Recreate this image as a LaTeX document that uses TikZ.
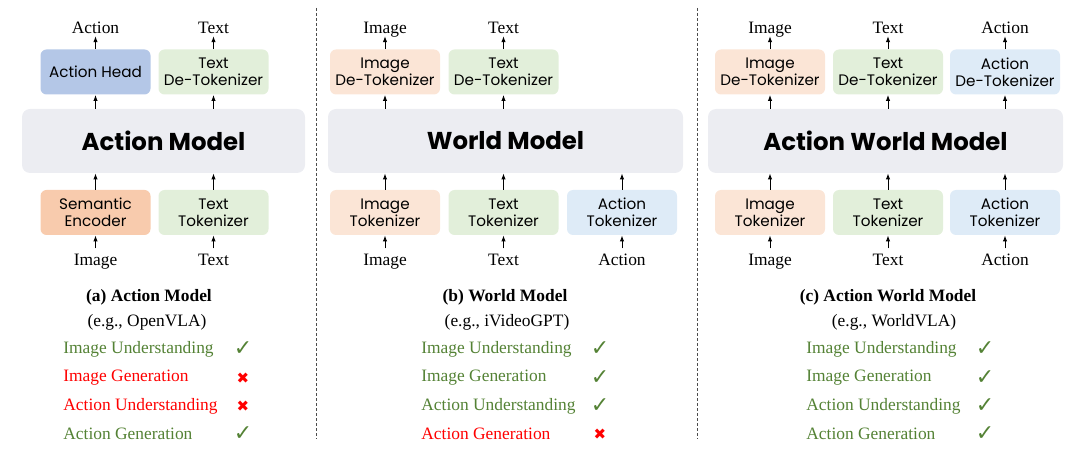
\documentclass[tikz,border=0pt]{standalone}
\usepackage{fontspec}
\setmainfont{Liberation Serif}
\newfontfamily\boxfont{Poppins}
\newfontfamily\symfont{DejaVu Sans}
\usetikzlibrary{arrows.meta,positioning}
\definecolor{coregray}{HTML}{ECEDF2}
\definecolor{headblue}{HTML}{B4C7E7}
\definecolor{txtgreen}{HTML}{E2EFDA}
\definecolor{encorange}{HTML}{F8CBAD}
\definecolor{imgpeach}{HTML}{FBE5D6}
\definecolor{actblue}{HTML}{DEEBF7}
\definecolor{okgreen}{HTML}{548235}
\definecolor{nored}{HTML}{FF0000}
\tikzset{
  blk/.style={rounded corners=3pt, align=center, inner sep=0pt, minimum width=55pt, minimum height=22.5pt, font=\boxfont\fontsize{7.6}{8.6}\selectfont},
  core/.style={fill=coregray, rounded corners=4pt, minimum height=32pt, font=\boxfont\bfseries\fontsize{12.2}{14}\selectfont},
  io/.style={inner sep=1pt, text height=1.55ex, text depth=0pt, font=\fontsize{8.7}{10}\selectfont},
  arr/.style={-{Latex[length=3pt,width=2.2pt]}, line width=0.5pt},
  ttl/.style={inner sep=0pt, font=\bfseries\fontsize{8.7}{10}\selectfont},
  eg/.style={inner sep=0pt, font=\fontsize{8.7}{10}\selectfont},
  good/.style={anchor=west, inner sep=0pt, text=okgreen, font=\fontsize{8.7}{10}\selectfont},
  bad/.style={anchor=west, inner sep=0pt, text=nored, font=\fontsize{8.7}{10}\selectfont},
  tick/.style={inner sep=0pt, text=okgreen, font=\symfont\fontsize{11}{12}\selectfont},
  cross/.style={inner sep=0pt, text=nored, font=\symfont\fontsize{7.5}{9}\selectfont},
  sep/.style={black!70, line width=0.4pt, dash pattern=on 1.5pt off 1pt}
}
\begin{document}
\begin{tikzpicture}[x=0.5pt, y=-0.5pt, node distance=6.5pt]
\useasboundingbox (0,0) rectangle (1080,459);
% (a) action model
\node[blk, fill=headblue] (hdA) at (95.5,72) {Action Head};
\node[blk, fill=txtgreen] (tdA) at (213.5,72) {Text\\De-Tokenizer};
\node[core, minimum width=141.5pt] (mA) at (163.5,141) {Action Model};
\node[blk, fill=encorange] (seA) at (95.5,212.5) {Semantic\\Encoder};
\node[blk, fill=txtgreen] (ttA) at (213.5,212.5) {Text\\Tokenizer};
\node[io, above=of hdA] (oaA) {Action};
\node[io, above=of tdA] (otA) {Text};
\node[io, below=of seA] (iiA) {Image};
\node[io, below=of ttA] (itA) {Text};
\draw[arr] (hdA) -- (oaA);
\draw[arr] (tdA) -- (otA);
\draw[arr] (hdA.south |- mA.north) -- (hdA);
\draw[arr] (tdA.south |- mA.north) -- (tdA);
\draw[arr] (seA) -- (seA.north |- mA.south);
\draw[arr] (ttA) -- (ttA.north |- mA.south);
\draw[arr] (iiA) -- (seA);
\draw[arr] (itA) -- (ttA);
% (b) world model
\node[blk, fill=imgpeach] (idB) at (385,72) {Image\\De-Tokenizer};
\node[blk, fill=txtgreen] (tdB) at (503.5,72) {Text\\De-Tokenizer};
\node[core, minimum width=177.5pt] (mB) at (505.5,141) {World Model};
\node[blk, fill=imgpeach] (itkB) at (385,212.5) {Image\\Tokenizer};
\node[blk, fill=txtgreen] (ttB) at (503.5,212.5) {Text\\Tokenizer};
\node[blk, fill=actblue] (atB) at (622,212.5) {Action\\Tokenizer};
\node[io, above=of idB] (oiB) {Image};
\node[io, above=of tdB] (otB) {Text};
\node[io, below=of itkB] (iiB) {Image};
\node[io, below=of ttB] (itB) {Text};
\node[io, below=of atB] (iaB) {Action};
\draw[arr] (idB) -- (oiB);
\draw[arr] (tdB) -- (otB);
\draw[arr] (idB.south |- mB.north) -- (idB);
\draw[arr] (tdB.south |- mB.north) -- (tdB);
\draw[arr] (itkB) -- (itkB.north |- mB.south);
\draw[arr] (ttB) -- (ttB.north |- mB.south);
\draw[arr] (atB) -- (atB.north |- mB.south);
\draw[arr] (iiB) -- (itkB);
\draw[arr] (itB) -- (ttB);
\draw[arr] (iaB) -- (atB);
% (c) action world model
\node[blk, fill=imgpeach] (idC) at (770,72) {Image\\De-Tokenizer};
\node[blk, fill=txtgreen] (tdC) at (888,72) {Text\\De-Tokenizer};
\node[blk, fill=actblue] (adC) at (1005,72) {Action\\De-Tokenizer};
\node[core, minimum width=177.5pt] (mC) at (885.5,141) {Action World Model};
\node[blk, fill=imgpeach] (itkC) at (770,212.5) {Image\\Tokenizer};
\node[blk, fill=txtgreen] (ttC) at (888,212.5) {Text\\Tokenizer};
\node[blk, fill=actblue] (atC) at (1005,212.5) {Action\\Tokenizer};
\node[io, above=of idC] (oiC) {Image};
\node[io, above=of tdC] (otC) {Text};
\node[io, above=of adC] (oaC) {Action};
\node[io, below=of itkC] (iiC) {Image};
\node[io, below=of ttC] (itC) {Text};
\node[io, below=of atC] (iaC) {Action};
\draw[arr] (idC) -- (oiC);
\draw[arr] (tdC) -- (otC);
\draw[arr] (adC) -- (oaC);
\draw[arr] (idC.south |- mC.north) -- (idC);
\draw[arr] (tdC.south |- mC.north) -- (tdC);
\draw[arr] (adC.south |- mC.north) -- (adC);
\draw[arr] (itkC) -- (itkC.north |- mC.south);
\draw[arr] (ttC) -- (ttC.north |- mC.south);
\draw[arr] (atC) -- (atC.north |- mC.south);
\draw[arr] (iiC) -- (itkC);
\draw[arr] (itC) -- (ttC);
\draw[arr] (iaC) -- (atC);
% separators
\draw[sep] (316,8) -- (316,439);
\draw[sep] (697,8) -- (697,439);
% captions and abilities
\node[ttl] (tA) at (149,297) {(a) Action Model};
\node[eg] (eA) at (147,322) {(e.g., OpenVLA)};
\node[good] (a1) at (63,349) {Image Understanding};
\node[bad] (a2) at (63,378) {Image Generation};
\node[bad] (a3) at (63,406) {Action Understanding};
\node[good] (a4) at (63,434) {Action Generation};
\node[tick] (a1m) at (243,349) {✓};
\node[cross] (a2m) at (243,378) {✖};
\node[cross] (a3m) at (243,406) {✖};
\node[tick] (a4m) at (243,434) {✓};
\node[ttl] (tB) at (505,297) {(b) World Model};
\node[eg] (eB) at (507,322) {(e.g., iVideoGPT)};
\node[good] (b1) at (421,349) {Image Understanding};
\node[good] (b2) at (421,378) {Image Generation};
\node[good] (b3) at (421,406) {Action Understanding};
\node[bad] (b4) at (421,434) {Action Generation};
\node[tick] (b1m) at (600,349) {✓};
\node[tick] (b2m) at (600,378) {✓};
\node[tick] (b3m) at (600,406) {✓};
\node[cross] (b4m) at (600,434) {✖};
\node[ttl] (tC) at (888,297) {(c) Action World Model};
\node[eg] (eC) at (894,322) {(e.g., WorldVLA)};
\node[good] (c1) at (806,349) {Image Understanding};
\node[good] (c2) at (806,378) {Image Generation};
\node[good] (c3) at (806,406) {Action Understanding};
\node[good] (c4) at (806,434) {Action Generation};
\node[tick] (c1m) at (985,349) {✓};
\node[tick] (c2m) at (985,378) {✓};
\node[tick] (c3m) at (985,406) {✓};
\node[tick] (c4m) at (985,434) {✓};
\end{tikzpicture}
\end{document}
